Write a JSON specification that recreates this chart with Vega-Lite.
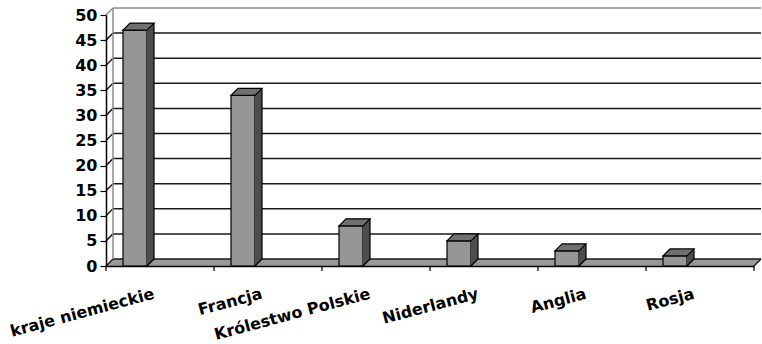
{
  "$schema": "https://vega.github.io/schema/vega-lite/v6.json",
  "width": 648,
  "height": 251,
  "autosize": {"type": "none"},
  "padding": {"left": 106, "top": 15, "right": 8, "bottom": 78},
  "background": "white",
  "config": {
    "view": {"stroke": null},
    "font": "DejaVu Sans"
  },
  "resolve": {"axis": {"x": "independent", "y": "independent"}},
  "datasets": {
    "kraje": [
      {"kraj": "kraje niemieckie", "udzial": 47},
      {"kraj": "Francja", "udzial": 34},
      {"kraj": "Królestwo Polskie", "udzial": 8},
      {"kraj": "Niderlandy", "udzial": 5},
      {"kraj": "Anglia", "udzial": 3},
      {"kraj": "Rosja", "udzial": 2}
    ],
    "siatka": [
      {"v": 0}, {"v": 5}, {"v": 10}, {"v": 15}, {"v": 20}, {"v": 25},
      {"v": 30}, {"v": 35}, {"v": 40}, {"v": 45}, {"v": 50}
    ]
  },
  "layer": [
    {
      "description": "floor of the 3D box; the axes are declared here",
      "data": {"values": [{}]},
      "mark": {"type": "rect", "fill": "#999999", "x2Offset": 7, "y2Offset": -7},
      "encoding": {
        "x": {
          "datum": "kraje niemieckie",
          "type": "nominal",
          "bandPosition": 0,
          "scale": {
            "type": "band",
            "domain": ["kraje niemieckie", "Francja", "Królestwo Polskie", "Niderlandy", "Anglia", "Rosja"],
            "paddingInner": 0,
            "paddingOuter": 0
          },
          "axis": {
            "orient": "bottom",
            "title": null,
            "ticks": false,
            "zindex": 1,
            "labelAngle": -15,
            "labelAlign": "right",
            "labelBaseline": "middle",
            "labelOffset": -6,
            "labelPadding": 27,
            "labelOverlap": false,
            "labelFont": "DejaVu Sans",
            "labelFontSize": 16,
            "labelFontWeight": "bold",
            "labelColor": "black",
            "domainColor": "black",
            "domainWidth": 1.5,
            "grid": false
          }
        },
        "x2": {"datum": "Rosja", "bandPosition": 1},
        "y": {
          "datum": 0,
          "type": "quantitative",
          "scale": {"domain": [0, 50], "nice": false, "zero": true},
          "axis": {
            "orient": "left",
            "title": null,
            "zindex": 1,
            "values": [0, 5, 10, 15, 20, 25, 30, 35, 40, 45, 50],
            "labelOverlap": false,
            "grid": false,
            "tickColor": "black",
            "tickSize": 6,
            "tickWidth": 1.2,
            "labelPadding": 3,
            "labelFont": "DejaVu Sans",
            "labelFontSize": 16,
            "labelFontWeight": "bold",
            "labelColor": "black",
            "domainColor": "black",
            "domainWidth": 1.5
          }
        },
        "y2": {"datum": 0}
      }
    },
    {
      "description": "trim the floor corners into a parallelogram",
      "data": {"values": [{}]},
      "mark": {"type": "point", "shape": "M0,0L0,-7L7,-7Z", "size": 4, "filled": true, "fill": "white", "opacity": 1, "strokeOpacity": 0},
      "encoding": {
        "x": {"datum": "kraje niemieckie", "type": "nominal", "bandPosition": 0, "axis": null},
        "y": {"datum": 0, "type": "quantitative", "axis": null}
      }
    },
    {
      "data": {"values": [{}]},
      "mark": {"type": "point", "shape": "M0,0L7,-7L7,0Z", "size": 4, "filled": true, "fill": "white", "opacity": 1, "strokeOpacity": 0},
      "encoding": {
        "x": {"datum": "Rosja", "type": "nominal", "bandPosition": 1, "axis": null},
        "y": {"datum": 0, "type": "quantitative", "axis": null}
      }
    },
    {
      "description": "gridlines on the back wall",
      "data": {"name": "siatka"},
      "mark": {"type": "rule", "xOffset": 7, "x2Offset": 7, "yOffset": -7, "y2Offset": -7, "strokeWidth": 1.5},
      "encoding": {
        "x": {"datum": "kraje niemieckie", "type": "nominal", "bandPosition": 0, "axis": null},
        "x2": {"datum": "Rosja", "bandPosition": 1},
        "y": {"field": "v", "type": "quantitative", "axis": null},
        "y2": {"field": "v"},
        "color": {"condition": {"test": "datum.v === 50", "value": "#8c8c8c"}, "value": "#1a1a1a"}
      }
    },
    {
      "description": "gridlines on the side wall",
      "data": {"name": "siatka"},
      "mark": {"type": "rule", "x2Offset": 7, "y2Offset": -7, "strokeWidth": 1.5},
      "encoding": {
        "x": {"datum": "kraje niemieckie", "type": "nominal", "bandPosition": 0, "axis": null},
        "x2": {"datum": "kraje niemieckie", "bandPosition": 0},
        "y": {"field": "v", "type": "quantitative", "axis": null},
        "y2": {"field": "v"},
        "color": {"condition": {"test": "datum.v === 50", "value": "#8c8c8c"}, "value": "#1a1a1a"}
      }
    },
    {
      "description": "back wall left edge",
      "data": {"values": [{}]},
      "mark": {"type": "rule", "xOffset": 7, "x2Offset": 7, "yOffset": -7, "y2Offset": -7, "stroke": "#8c8c8c", "strokeWidth": 1.5},
      "encoding": {
        "x": {"datum": "kraje niemieckie", "type": "nominal", "bandPosition": 0, "axis": null},
        "x2": {"datum": "kraje niemieckie", "bandPosition": 0},
        "y": {"datum": 0, "type": "quantitative", "axis": null},
        "y2": {"datum": 50}
      }
    },
    {
      "description": "floor right edge",
      "data": {"values": [{}]},
      "mark": {"type": "rule", "x2Offset": 7, "y2Offset": -7, "stroke": "#1a1a1a", "strokeWidth": 1.5},
      "encoding": {
        "x": {"datum": "Rosja", "type": "nominal", "bandPosition": 1, "axis": null},
        "x2": {"datum": "Rosja", "bandPosition": 1},
        "y": {"datum": 0, "type": "quantitative", "axis": null},
        "y2": {"datum": 0}
      }
    },
    {
      "description": "category ticks between bands",
      "data": {"name": "kraje"},
      "mark": {"type": "rule", "y2Offset": 5, "stroke": "black", "strokeWidth": 1.2},
      "encoding": {
        "x": {"field": "kraj", "type": "nominal", "bandPosition": 0, "axis": null},
        "x2": {"field": "kraj", "bandPosition": 0},
        "y": {"datum": 0, "type": "quantitative", "axis": null},
        "y2": {"datum": 0}
      }
    },
    {
      "data": {"values": [{}]},
      "mark": {"type": "rule", "y2Offset": 5, "stroke": "black", "strokeWidth": 1.2},
      "encoding": {
        "x": {"datum": "Rosja", "type": "nominal", "bandPosition": 1, "axis": null},
        "x2": {"datum": "Rosja", "bandPosition": 1},
        "y": {"datum": 0, "type": "quantitative", "axis": null},
        "y2": {"datum": 0}
      }
    },
    {
      "description": "front faces of the columns",
      "data": {"name": "kraje"},
      "mark": {"type": "bar", "width": 24, "xOffset": -25, "fill": "#969696", "stroke": "black", "strokeWidth": 1.2},
      "encoding": {
        "x": {"field": "kraj", "type": "nominal", "sort": null, "axis": null},
        "y": {"field": "udzial", "type": "quantitative", "axis": null}
      }
    },
    {
      "description": "side faces of the columns",
      "data": {"name": "kraje"},
      "mark": {"type": "bar", "width": 7, "xOffset": -9.5, "yOffset": -7, "y2Offset": -7, "fill": "#4d4d4d"},
      "encoding": {
        "x": {"field": "kraj", "type": "nominal", "sort": null, "axis": null},
        "y": {"field": "udzial", "type": "quantitative", "axis": null},
        "y2": {"datum": 0}
      }
    },
    {
      "data": {"name": "kraje"},
      "mark": {"type": "point", "shape": "M0,0L0,-7L7,-7Z", "size": 4, "filled": true, "fill": "#4d4d4d", "opacity": 1, "strokeOpacity": 0, "xOffset": -13},
      "encoding": {
        "x": {"field": "kraj", "type": "nominal", "sort": null, "axis": null},
        "y": {"datum": 0, "type": "quantitative", "axis": null}
      }
    },
    {
      "data": {"name": "kraje"},
      "mark": {"type": "point", "shape": "M0,0L7,-7", "size": 4, "filled": false, "stroke": "black", "strokeWidth": 1.2, "opacity": 1, "xOffset": -13},
      "encoding": {
        "x": {"field": "kraj", "type": "nominal", "sort": null, "axis": null},
        "y": {"datum": 0, "type": "quantitative", "axis": null}
      }
    },
    {
      "data": {"name": "kraje"},
      "mark": {"type": "rule", "xOffset": -6, "x2Offset": -6, "yOffset": -7, "y2Offset": -7, "stroke": "black", "strokeWidth": 1.2},
      "encoding": {
        "x": {"field": "kraj", "type": "nominal", "sort": null, "axis": null},
        "x2": {"field": "kraj"},
        "y": {"field": "udzial", "type": "quantitative", "axis": null},
        "y2": {"datum": 0}
      }
    },
    {
      "description": "top faces of the columns",
      "data": {"name": "kraje"},
      "mark": {"type": "point", "shape": "M0,0L7,-7L31,-7L24,0Z", "size": 4, "filled": true, "fill": "#707070", "stroke": "black", "strokeWidth": 1.2, "opacity": 1, "xOffset": -37},
      "encoding": {
        "x": {"field": "kraj", "type": "nominal", "sort": null, "axis": null},
        "y": {"field": "udzial", "type": "quantitative", "axis": null}
      }
    }
  ]
}
